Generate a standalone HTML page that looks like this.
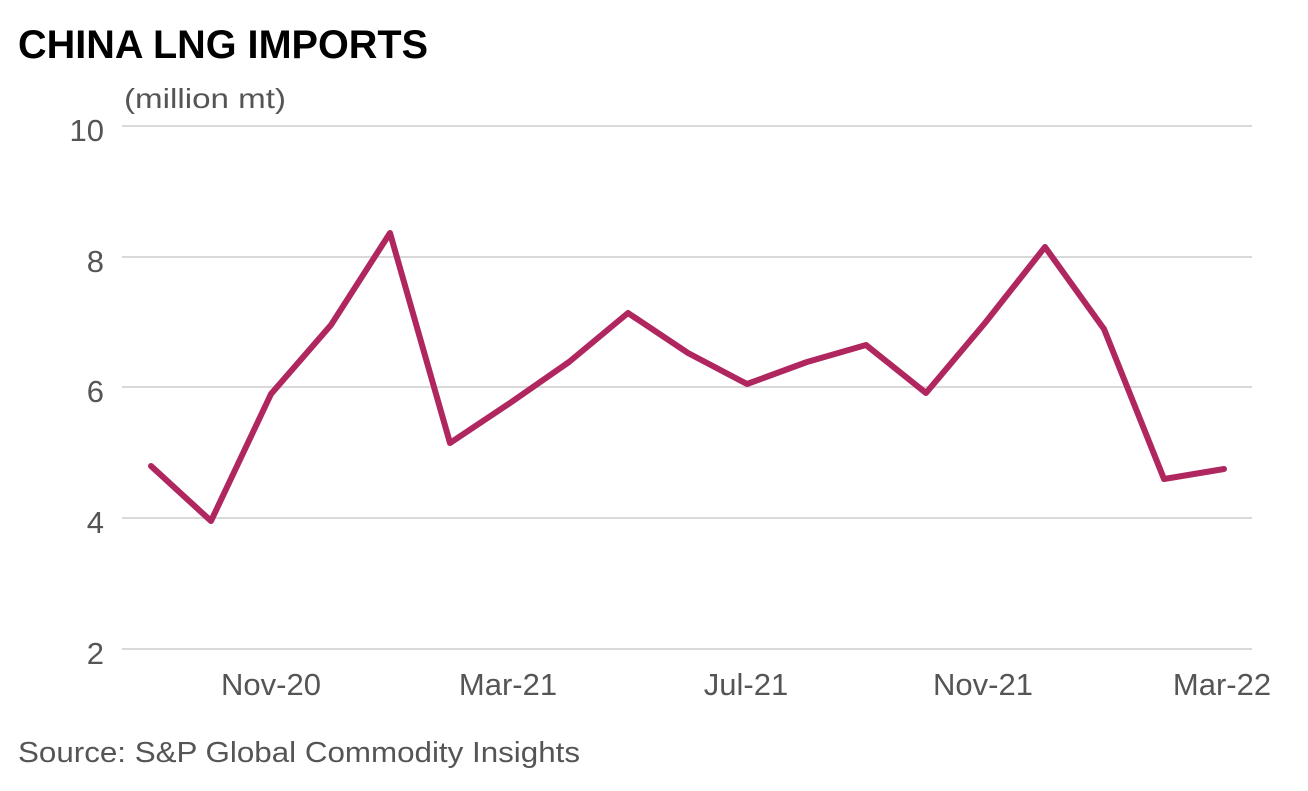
<!DOCTYPE html>
<html><head><meta charset="utf-8"><style>
html,body{margin:0;padding:0;background:#fff;}
body{width:1308px;height:786px;overflow:hidden;}
</style></head><body>
<svg width="1308" height="786" xmlns="http://www.w3.org/2000/svg" font-family="Liberation Sans, sans-serif">
<text x="18" y="58" font-size="40" font-weight="bold" fill="#000" textLength="410" lengthAdjust="spacingAndGlyphs">CHINA LNG IMPORTS</text>
<text x="124" y="108" font-size="28" fill="#555" textLength="162" lengthAdjust="spacingAndGlyphs">(million mt)</text>
<g stroke="#d9d9d9" stroke-width="2">
<line x1="122" y1="126" x2="1252" y2="126"/>
<line x1="122" y1="257" x2="1252" y2="257"/>
<line x1="122" y1="387" x2="1252" y2="387"/>
<line x1="122" y1="518" x2="1252" y2="518"/>
<line x1="122" y1="649" x2="1252" y2="649"/>
</g>
<g font-size="31" fill="#555" text-anchor="end">
<text x="104" y="141">10</text>
<text x="104" y="272">8</text>
<text x="104" y="402">6</text>
<text x="104" y="533">4</text>
<text x="104" y="664">2</text>
</g>
<g font-size="31" fill="#555" text-anchor="middle">
<text x="271" y="695">Nov-20</text>
<text x="508" y="695">Mar-21</text>
<text x="746" y="695">Jul-21</text>
<text x="983" y="695">Nov-21</text>
<text x="1222" y="695">Mar-22</text>
</g>
<polyline fill="none" stroke="#b0265f" stroke-width="6" stroke-linejoin="round" stroke-linecap="round"
points="151,466 211,521 271,394 331,325 390,233 450,443 510,403 569,362 628,313 688,353 747,384 807,362 866,345 926,393 985,323 1045,247 1104,329 1164,479 1224,469"/>
<text x="18" y="762" font-size="29" fill="#555" textLength="562" lengthAdjust="spacingAndGlyphs">Source: S&amp;P Global Commodity Insights</text>
</svg>
</body></html>
